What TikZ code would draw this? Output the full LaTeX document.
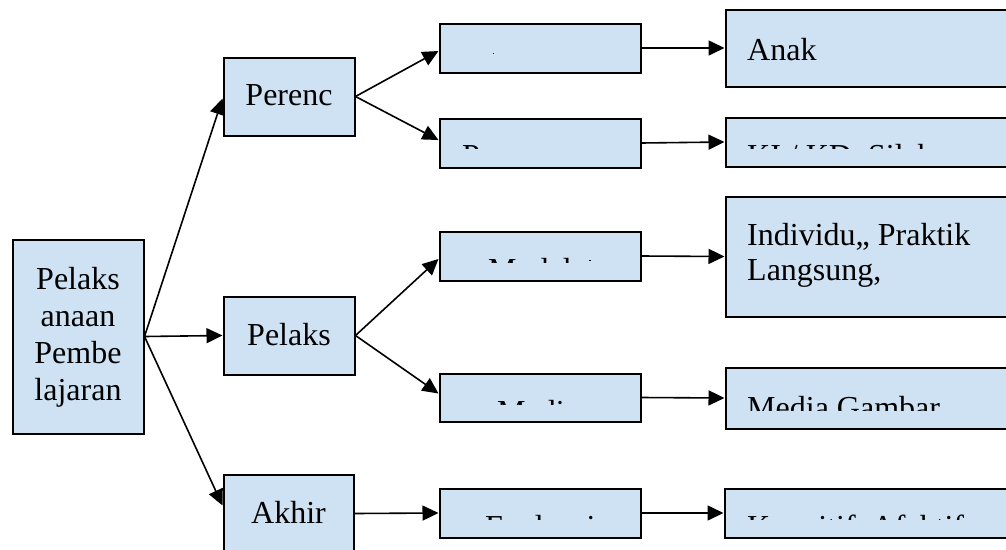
\documentclass[tikz,border=0pt]{standalone}
\usepackage{fontspec}
\setmainfont{Liberation Serif}
\usetikzlibrary{arrows.meta}
\definecolor{boxblue}{RGB}{207,226,243}
\begin{document}
\begin{tikzpicture}[x=1pt,y=-1pt,
  box/.style={draw=black, line width=2pt, fill=boxblue, rectangle, inner sep=0pt, anchor=center},
  lbl/.style={font=\fontsize{32}{37}\selectfont, inner sep=0pt},
  conn/.style={line width=1.6pt, -{Triangle[length=16pt,width=15pt]}}]
\clip (0,0) rectangle (1006,549);
% level 0
\node[box, minimum width=131pt, minimum height=194pt] (R) at (78,336.5) {};
% level 1
\node[box, minimum width=131pt, minimum height=78pt] (P1) at (289,96.5) {};
\node[box, minimum width=131pt, minimum height=78pt] (P2) at (289,335.5) {};
\node[box, minimum width=130pt, minimum height=78pt] (P3) at (288.5,513.5) {};
% level 2
\node[box, minimum width=201pt, minimum height=49pt] (A1) at (540,48) {};
\node[box, minimum width=201pt, minimum height=49pt] (A2) at (540,143) {};
\node[box, minimum width=201pt, minimum height=49pt] (A3) at (540,256) {};
\node[box, minimum width=201pt, minimum height=48pt] (A4) at (540,397.5) {};
\node[box, minimum width=201pt, minimum height=49pt] (A5) at (540,513) {};
% level 3
\node[box, minimum width=304pt, minimum height=77pt] (B1) at (877.5,48) {};
\node[box, minimum width=304pt, minimum height=49pt] (B2) at (877.5,142) {};
\node[box, minimum width=304pt, minimum height=120pt] (B3) at (877.5,256.5) {};
\node[box, minimum width=304pt, minimum height=61pt] (B4) at (877.5,398) {};
\node[box, minimum width=305pt, minimum height=49pt] (B5) at (877,513) {};
% texts
\node[lbl, align=center] (Rt) at (78,337) {Pelaks\\anaan\\Pembe\\lajaran};
\node[lbl, anchor=base] (P1t) at (289,105) {Perenc};
\node[lbl, anchor=base] (P2t) at (289,345) {Pelaks};
\node[lbl, anchor=base] (P3t) at (288.5,523) {Akhir};
\node[lbl, anchor=base west] (B1t) at (747,60) {Anak};
\node[lbl, anchor=base west] (B3t) at (747,245) {Individu,, Praktik};
\node[lbl, anchor=base west] (B3u) at (747,280) {Langsung,};
% clipped texts
\fill (492.5,52.5) rectangle (494,54);
\begin{scope}
  \clip (439,118) rectangle (641,148);
  \node[lbl, anchor=base west] (A2t) at (462,166.5) {Perencanaan};
\end{scope}
\begin{scope}
  \clip (439,231) rectangle (641,262);
  \node[lbl, anchor=base west] (A3t) at (488,280.5) {Model};
\end{scope}
\fill (589,259.5) rectangle (591,261);
\begin{scope}
  \clip (439,373) rectangle (641,404);
  \node[lbl, anchor=base west] (A4t) at (497,422) {Media};
\end{scope}
\begin{scope}
  \clip (439,488) rectangle (641,519);
  \node[lbl, anchor=base west] (A5t) at (485,537.5) {Evaluasi};
\end{scope}
\begin{scope}
  \clip (725,117) rectangle (1006,148);
  \node[lbl, anchor=base west] (B2t) at (747,166.5) {KI / KD, Silabus};
\end{scope}
\begin{scope}
  \clip (725,367) rectangle (1006,410);
  \node[lbl, anchor=base west] (B4t) at (747,418) {Media Gambar};
\end{scope}
\begin{scope}
  \clip (724,488) rectangle (1006,519);
  \node[lbl, anchor=base west] (B5t) at (747,537.5) {Kognitif, Afektif};
\end{scope}
% connectors
\draw[conn] (R.east) -- ([yshift=-2pt]P1.west);
\draw[conn] (R.east) -- (P2.west);
\draw[conn] (R.east) -- ([yshift=8pt]P3.west);
\draw[conn] (P1.east) -- ([yshift=-3pt]A1.west);
\draw[conn] (P1.east) -- ([yshift=3pt]A2.west);
\draw[conn] (P2.east) -- ([yshift=-3pt]A3.west);
\draw[conn] (P2.east) -- ([yshift=4pt]A4.west);
\draw[conn] (P3.east) -- (A5.west);
\draw[conn] (A1.east) -- (B1.west);
\draw[conn] (A2.east) -- (B2.west);
\draw[conn] (A3.east) -- (B3.west);
\draw[conn] (A4.east) -- (B4.west);
\draw[conn] (A5.east) -- (B5.west);
\end{tikzpicture}
\end{document}
